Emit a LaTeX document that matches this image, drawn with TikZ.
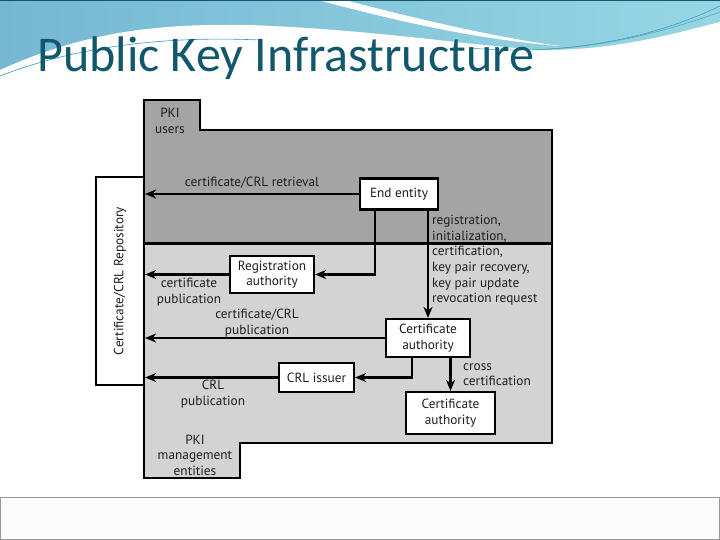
\documentclass[tikz,border=0pt]{standalone}
\usepackage{fontspec}
\setmainfont{PT Sans}
\newfontfamily\titlefont{Carlito}
\usetikzlibrary{arrows.meta}
\definecolor{titleteal}{RGB}{18,88,108}
\definecolor{bandleft}{RGB}{118,184,210}
\definecolor{bandright}{RGB}{150,214,228}
\definecolor{usersgray}{RGB}{164,164,164}
\definecolor{mgmtgray}{RGB}{211,211,211}
\definecolor{inkgray}{RGB}{30,30,30}
\begin{document}
\begin{tikzpicture}[x=1pt,y=-1pt,
  every node/.style={font=\fontsize{13.3}{15.6}\selectfont,text=inkgray},
  entity/.style={draw=black,line width=2.2pt,fill=white,inner sep=0pt,align=center},
  arr/.style={line width=2.2pt,-{Stealth[length=11pt,width=9pt]}},
  note/.style={align=center,inner sep=0pt}]
\useasboundingbox (0,0) rectangle (720,540);
% title band
\shade[left color=bandleft,right color=bandright] (0,0) rectangle (720,78);
\fill[white] (0,70) .. controls (80,34) and (150,23) .. (250,25)
  .. controls (380,30) and (470,46) .. (545,50)
  .. controls (620,50) and (680,32) .. (720,22) -- (720,78) -- (0,78) -- cycle;
\fill[white] (318,0) -- (345,0) .. controls (420,20) and (500,38) .. (560,46)
  .. controls (480,40) and (400,22) .. cycle;
\draw[cyan!55!teal,line width=0.6pt] (0,76) .. controls (80,45) and (170,36) .. (260,40);
\draw[cyan!60!teal,line width=0.5pt] (470,48) .. controls (560,56) and (650,40) .. (720,6);
\draw[teal!70,line width=0.5pt] (520,50) .. controls (600,50) and (670,30) .. (720,12);
\draw[titleteal,line width=0.8pt] (0,0.4) -- (720,0.4);
\node[anchor=base west,inner sep=0pt,text=titleteal,font=\fontsize{50}{50}\titlefont] (title) at (37,72) {Public Key Infrastructure};
% footer
\draw[gray!80,fill=gray!3,line width=0.6pt] (0.5,497) rectangle (719.5,539.5);
% regions
\draw[fill=usersgray,line width=2.2pt] (144,100) -- (200,100) -- (200,130) -- (552,130) -- (552,243) -- (144,243) -- cycle;
\draw[fill=mgmtgray,line width=2.2pt] (144,243) -- (552,243) -- (552,443) -- (240,443) -- (240,478) -- (144,478) -- cycle;
\draw[line width=3pt] (144,243) -- (552,243);
\node[note] (users) at (170,121) {PKI\\users};
\node[note] (mgmt) at (195,455) {PKI\\management\\entities};
% boxes
\node[entity,minimum width=48pt,minimum height=208pt] (repo) at (120,281) {\rotatebox{90}{Certificate/CRL Repository}};
\node[entity,minimum width=78pt,minimum height=31pt] (ee) at (399,194) {End entity};
\node[entity,minimum width=84pt,minimum height=37pt] (ra) at (272,274.5) {Registration\\authority};
\node[entity,minimum width=84pt,minimum height=38pt] (ca) at (428,338) {Certificate\\authority};
\node[entity,minimum width=75pt,minimum height=29pt] (crl) at (316.5,377.5) {CRL issuer};
\node[entity,minimum width=89pt,minimum height=42pt] (cab) at (450.5,413) {Certificate\\authority};
% connectors
\draw[arr] (ee.west) -- (ee.west -| repo.east) node[midway,above=1pt]{certificate/CRL retrieval};
\draw[arr] ([xshift=-24pt]ee.south) |- (ra.east);
\draw[arr] (ra.west) -- (ra.west -| repo.east);
\draw[arr] (ca.north |- ee.south) -- (ca.north);
\draw[arr] (ca.west) -- (ca.west -| repo.east);
\draw[arr] ([xshift=-16pt]ca.south) |- (crl.east);
\draw[arr] (crl.west) -- (crl.west -| repo.east);
\draw[arr] (cab.north |- ca.south) -- (cab.north);
% labels
\node[note] (pubcert) at (189,292) {certificate\\publication};
\node[note] (pubboth) at (257,323) {certificate/CRL\\publication};
\node[note] (pubcrl) at (213,394) {CRL\\publication};
\node[note,align=left,anchor=north west] (cross) at (463,363) {cross\\certification};
\node[note,align=left,anchor=north west] (reqs) at (432,215) {registration,\\initialization,\\certification,\\key pair recovery,\\key pair update\\revocation request};
\end{tikzpicture}
\end{document}
